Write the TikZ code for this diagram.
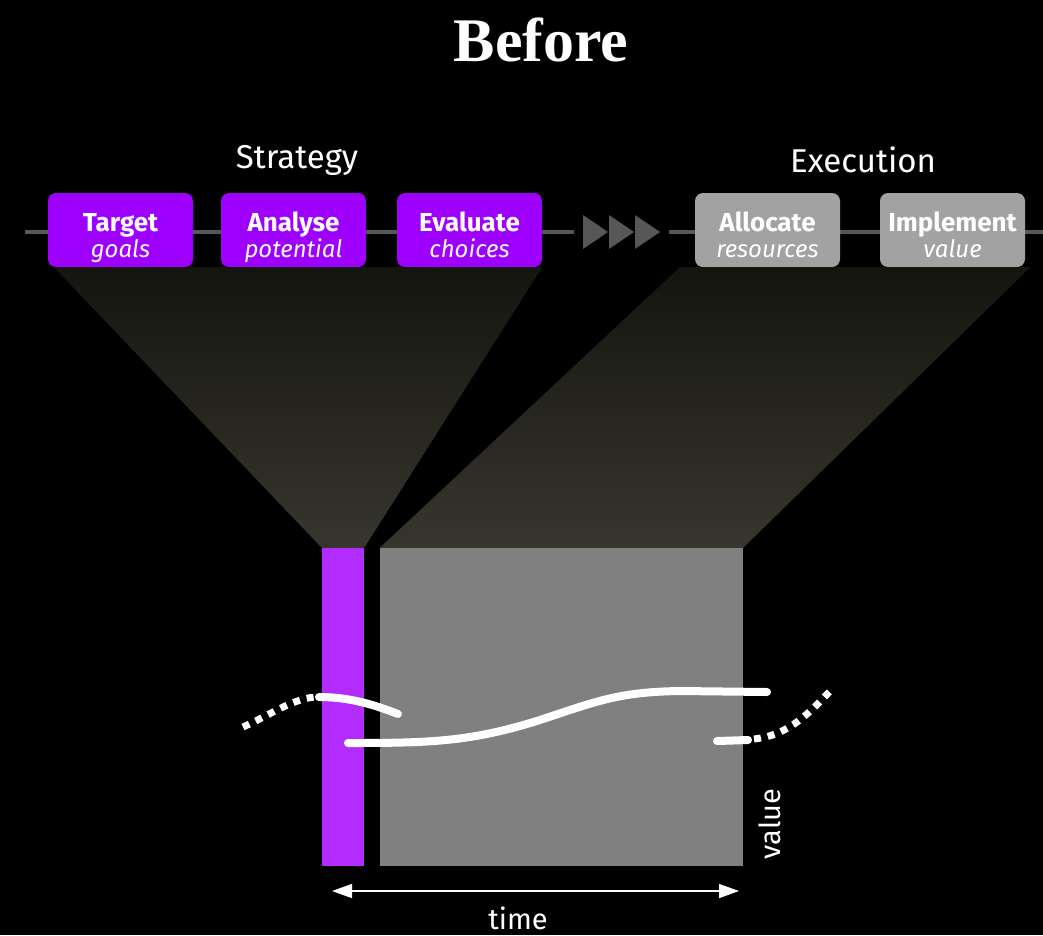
\documentclass[tikz,border=0pt]{standalone}
\usepackage{fontspec}
\setmainfont{Fira Sans}
\newfontfamily\titlefont{Liberation Serif}
\usepackage{tikz}
\usetikzlibrary{shapes,arrows.meta,calc}
\definecolor{stratpurple}{HTML}{9E00FF}
\definecolor{barpurple}{HTML}{B22CFF}
\definecolor{execgray}{HTML}{A2A2A2}
\definecolor{rectgray}{HTML}{808080}
\definecolor{trackgray}{HTML}{575757}
\definecolor{beamtop}{HTML}{15150F}
\definecolor{beambot}{HTML}{36362E}
\newcommand{\stagetext}[2]{\rule{0pt}{37pt}{\bfseries\fontsize{26}{26}\selectfont #1}\\{\itshape #2}\rule[-9pt]{0pt}{1pt}}
\tikzstyle{track} = [draw=trackgray, line width=4pt]
\tikzstyle{chevron} = [fill=trackgray]
\tikzstyle{stage} = [rectangle, rounded corners=8pt, text=white, align=center, minimum width=145pt, minimum height=74pt, inner sep=0pt, font=\fontsize{24}{26}\selectfont]
\tikzstyle{stratbox} = [stage, fill=stratpurple]
\tikzstyle{execbox} = [stage, fill=execgray]
\tikzstyle{heading} = [text=white, font=\fontsize{33}{36}\selectfont]
\tikzstyle{beam} = [top color=beamtop, bottom color=beambot]
\tikzstyle{curve} = [draw=white, line width=8pt, line cap=round]
\tikzstyle{dots} = [draw=white, line width=7pt, dash pattern=on 7pt off 7pt]
\tikzstyle{axis} = [draw=white, line width=1.5pt, {Triangle[length=20pt,width=14pt]}-{Triangle[length=20pt,width=14pt]}]
\tikzstyle{axislabel} = [text=white, font=\fontsize{29}{32}\selectfont]

\begin{document}
\begin{tikzpicture}[x=1pt, y=-1pt]
        \fill[black] (0,0) rectangle (1043,935);
        \useasboundingbox (0,0) rectangle (1043,935);

        \node[text=white, font=\titlefont\bfseries\fontsize{62}{64}\selectfont] (title) at (541,40) {Before};
        \node[heading] (strategy) at (297,160) {Strategy};
        \node[heading] (execution) at (863,160) {Execution};

        % track behind the stages
        \coordinate (lstart) at (25,232);
        \coordinate (lmid) at (574,232);
        \coordinate (rmid) at (669,232);
        \coordinate (lend) at (1043,232);
        \path[track] (lstart) -- (lmid);
        \path[track] (rmid) -- (lend);
        \foreach \x in {583,609,635}
            \fill[chevron] (\x,215) -- (\x+25,232) -- (\x,249) -- cycle;

        \node[stratbox] (target) at (120.5,230) {\stagetext{Target}{goals}};
        \node[stratbox] (analyse) at (293.5,230) {\stagetext{Analyse}{potential}};
        \node[stratbox] (evaluate) at (469.5,230) {\stagetext{Evaluate}{choices}};
        \node[execbox] (allocate) at (767.5,230) {\stagetext{Allocate}{resources}};
        \node[execbox] (implement) at (952.5,230) {\stagetext{Implement}{value}};

        \node[fill=barpurple, minimum width=42pt, minimum height=318pt, inner sep=0pt] (stratbar) at (343,707) {};
        \node[fill=rectgray, minimum width=363pt, minimum height=318pt, inner sep=0pt] (execrect) at (561.5,707) {};

        % light beams from the stages to the bars
        \shade[beam] ([xshift=6pt]target.south west) -- (evaluate.south east) -- (stratbar.north east) -- (stratbar.north west) -- cycle;
        \shade[beam] ([xshift=-15pt]allocate.south west) -- ([xshift=5pt]implement.south east) -- (execrect.north east) -- (execrect.north west) -- cycle;

        % value curves
        \draw[dots] (243,727) .. controls (268,716) and (292,699) .. (315,697);
        \draw[curve] (319,697) .. controls (350,697) and (375,705) .. (398,714);
        \draw[curve] (348,743) .. controls (430,743) and (470,742) .. (540,720) .. controls (600,700) and (620,692) .. (680,691) -- (767,692);
        \draw[curve] (717,741) -- (748,740);
        \draw[dots] (754,739) .. controls (790,735) and (810,712) .. (833,688);

        \coordinate (tleft) at (332,891);
        \coordinate (tright) at (739,891);
        \path[axis] (tleft) -- (tright);
        \node[axislabel] (time) at (518,918) {time};
        \node[axislabel, rotate=90] (value) at (770,824) {value};
    \end{tikzpicture}
\end{document}
